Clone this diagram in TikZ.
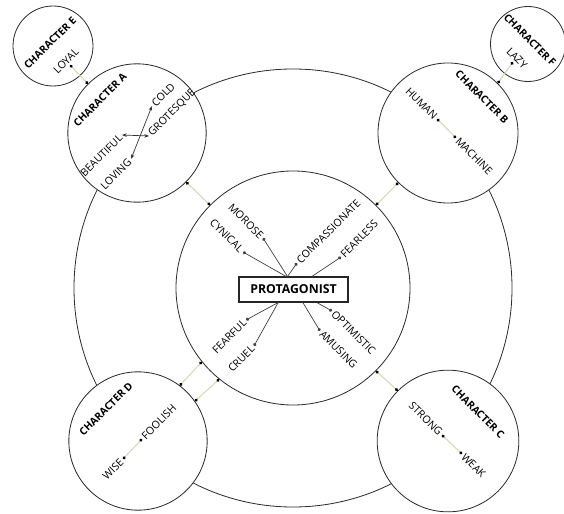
\documentclass[tikz,border=0pt]{standalone}
\usepackage{fontspec}
\setmainfont{Open Sans}
\usepackage{tikz}
\usetikzlibrary{arrows.meta}
\definecolor{paleline}{RGB}{212,216,186}
\definecolor{ringline}{RGB}{45,45,45}

\begin{document}
\begin{tikzpicture}[x=0.03cm, y=-0.03cm,
    ring/.style={draw=ringline, line width=0.7pt, circle, inner sep=0pt},
    charring/.style={ring, fill=white},
    head/.style={font=\fontsize{8.8}{10}\selectfont\bfseries, inner sep=1pt},
    trait/.style={font=\fontsize{9}{10}\selectfont, inner sep=1.5pt},
    spoke/.style={draw=black!75, line width=0.6pt, -{Circle[length=2.8pt]}},
    link/.style={draw=paleline, line width=0.9pt, {Circle[length=2.6pt,color=black]}-{Circle[length=2.6pt,color=black]}},
    swap/.style={draw=black!80, line width=0.6pt, {Stealth[length=4pt]}-{Stealth[length=4pt]}}
]
    \useasboundingbox (0,0) rectangle (564,514);

    % World ring
    \node[ring, minimum size=13.14cm] (world) at (293,288) {};

    % Inner ring
    \node[ring, minimum size=7.02cm] (inner) at (293,288) {};

    % Character rings
    \node[charring, minimum size=4.15cm] (charA) at (137,133) {};
    \node[charring, minimum size=4.2cm] (charB) at (448,133) {};
    \node[charring, minimum size=4.25cm] (charC) at (448,441) {};
    \node[charring, minimum size=4.15cm] (charD) at (138,441) {};
    \node[charring, minimum size=2.4cm] (charE) at (53,46) {};
    \node[charring, minimum size=2.25cm] (charF) at (528,44) {};

    % Protagonist
    \node[draw=black!85, line width=0.9pt, minimum width=3.27cm, minimum height=0.75cm, inner sep=0pt, font=\fontsize{10.5}{12}\selectfont\bfseries] (prot) at (293.5,289.5) {PROTAGONIST};

    % Protagonist traits
    \node[trait, rotate=-45, anchor=east] (morose) at (263,238) {MOROSE};
    \node[trait, rotate=-45, anchor=east] (cynical) at (243,252) {CYNICAL};
    \node[trait, rotate=45, anchor=west] (compassionate) at (297,263) {COMPASSIONATE};
    \node[trait, rotate=45, anchor=west] (fearless) at (341,257) {FEARLESS};
    \node[trait, rotate=45, anchor=east] (fearful) at (246,320) {FEARFUL};
    \node[trait, rotate=45, anchor=east] (cruel) at (254,346) {CRUEL};
    \node[trait, rotate=-45, anchor=west] (optimistic) at (332,311) {OPTIMISTIC};
    \node[trait, rotate=-45, anchor=west] (amusing) at (320,331) {AMUSING};

    % Character A
    \node[head, rotate=45] (headA) at (100,100) {CHARACTER A};
    \node[trait, rotate=45, anchor=west] (cold) at (152,106) {COLD};
    \node[trait, rotate=45, anchor=west] (grotesque) at (149,136) {GROTESQUE};
    \node[trait, rotate=45, anchor=east] (beautiful) at (122,135) {BEAUTIFUL};
    \node[trait, rotate=45, anchor=east] (loving) at (131,159) {LOVING};

    % Character B
    \node[head, rotate=-45] (headB) at (482,97) {CHARACTER B};
    \node[trait, rotate=-45, anchor=east] (human) at (437,119) {HUMAN};
    \node[trait, rotate=-45, anchor=west] (machine) at (456,138) {MACHINE};

    % Character C
    \node[head, rotate=-45] (headC) at (478,412) {CHARACTER C};
    \node[trait, rotate=-45, anchor=east] (strong) at (442,435) {STRONG};
    \node[trait, rotate=-45, anchor=west] (weak) at (462,454) {WEAK};

    % Character D
    \node[head, rotate=45] (headD) at (106,409) {CHARACTER D};
    \node[trait, rotate=45, anchor=east] (wise) at (123,459) {WISE};
    \node[trait, rotate=45, anchor=west] (foolish) at (142,439) {FOOLISH};

    % Character E
    \node[head, rotate=45] (headE) at (50,43) {CHARACTER E};
    \node[trait, rotate=45] (loyal) at (66,61) {LOYAL};

    % Character F
    \node[head, rotate=-45] (headF) at (530,40) {CHARACTER F};
    \node[trait, rotate=-45] (lazy) at (517,58) {LAZY};

    % Connections
    \draw[spoke] ([xshift=-0.18cm]prot.north) -- (morose.east);
    \draw[spoke] ([xshift=-0.22cm]prot.north) -- (cynical.east);
    \draw[spoke] ([xshift=-0.18cm]prot.north) -- (compassionate.west);
    \draw[spoke] ([xshift=0.55cm]prot.north) -- (fearless.west);
    \draw[spoke] ([xshift=-0.46cm]prot.south) -- (fearful.east);
    \draw[spoke] ([xshift=-0.46cm]prot.south) -- (cruel.east);
    \draw[spoke] ([xshift=0.7cm]prot.south) -- (optimistic.west);
    \draw[spoke] ([xshift=0.28cm]prot.south) -- (amusing.west);

    \draw[swap] (beautiful.east) -- (grotesque.west);
    \draw[swap] (cold.west) -- (loving.east);
    \draw[link] (human.east) -- (machine.west);
    \draw[link] (strong.east) -- (weak.west);
    \draw[link] (wise.east) -- (foolish.west);

    \draw[link] (charA.-45) -- (inner.135);
    \draw[link] (charB.-135) -- (inner.45);
    \draw[link] (charC.135) -- (inner.-45);
    \draw[link] (charD.53) -- (inner.219);
    \draw[link] (charD.35) -- (inner.231);
    \draw[link] (loyal.south) -- (charA.135);
    \draw[link] (lazy.south) -- (charB.45);

\end{tikzpicture}
\end{document}
